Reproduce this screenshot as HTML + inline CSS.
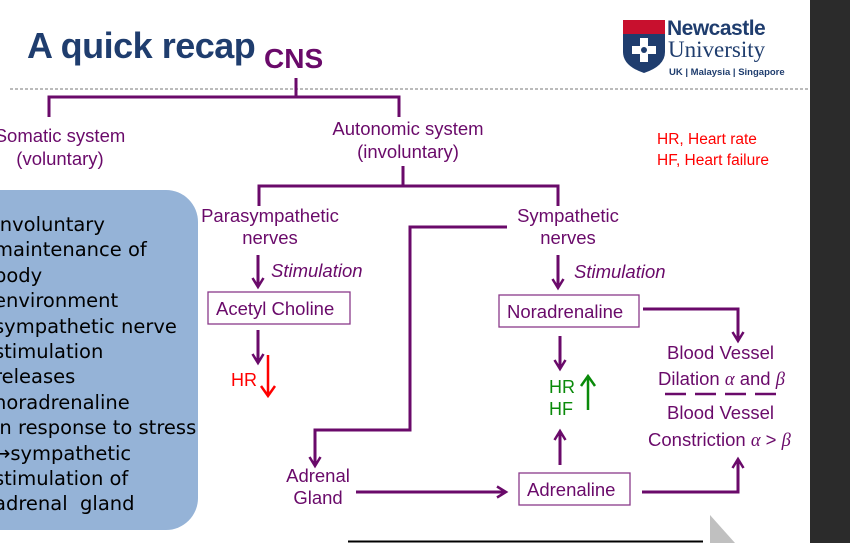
<!DOCTYPE html>
<html><head><style>
body{margin:0;width:850px;height:543px;overflow:hidden;background:#fff;position:relative;font-family:"Liberation Sans",sans-serif}
.t{position:absolute;white-space:nowrap}
.p{color:#6a0a6a;font-size:18.5px}
.c{text-align:center}
</style></head><body>
<div style="position:absolute;left:810px;top:0;width:40px;height:543px;background:#2b2b2b"></div>
<div style="position:absolute;left:-40px;top:190px;width:238px;height:340px;background:#95b3d7;border-radius:32px"></div>
<div class="t" style="left:-6px;top:212px;font-family:'Comic Sans MS','DejaVu Sans',sans-serif;font-size:19.5px;line-height:25.4px;color:#000">Involuntary<br>maintenance of<br>body<br>environment<br>sympathetic nerve<br>stimulation<br>releases<br>noradrenaline<br>in response to stress<br>→sympathetic<br>stimulation of<br>adrenal&nbsp; gland</div>
<div class="t" style="left:27px;top:25px;font-size:36px;font-weight:bold;color:#1f3d6e;letter-spacing:-0.5px">A quick recap</div>
<div class="t" style="left:264px;top:43px;font-size:28px;font-weight:bold;color:#6a0a6a">CNS</div>
<svg width="850" height="543" style="position:absolute;left:0;top:0">
<defs><marker id="a" markerWidth="14" markerHeight="14" refX="10" refY="7" orient="auto" markerUnits="userSpaceOnUse"><path d="M1,1.5 L10,7 L1,12.5" fill="none" stroke="#6a0a6a" stroke-width="2.5"/></marker></defs>
<line x1="10" y1="89" x2="810" y2="89" stroke="#777" stroke-dasharray="3,2"/>
<g fill="none" stroke="#6a0a6a" stroke-width="3">
<path d="M296,78V97M49,117V97H399V117"/>
<path d="M403,166V186M259,206V186H558V206"/>
<path d="M258,255V287" marker-end="url(#a)"/>
<path d="M258,330V363" marker-end="url(#a)"/>
<path d="M507,227H410V430H315V466" marker-end="url(#a)"/>
<path d="M356,492H506" marker-end="url(#a)"/>
<path d="M558,255V288" marker-end="url(#a)"/>
<path d="M643,309H738V341" marker-end="url(#a)"/>
<path d="M560,336V369" marker-end="url(#a)"/>
<path d="M560,465V431" marker-end="url(#a)"/>
<path d="M642,492H738V459" marker-end="url(#a)"/>
<path d="M665,394H776" stroke-width="2.5" stroke-dasharray="21,9"/>
</g>
<path d="M268,355V395M261,386L268,396L275,386" stroke="red" stroke-width="2.5" fill="none"/>
<path d="M588,410V378M581,386L588,376L595,386" stroke="#0a8a0a" stroke-width="2.5" fill="none"/>
<rect x="208" y="292" width="142" height="32" fill="none" stroke="#8a3a8a" stroke-width="1.3"/>
<rect x="499" y="295" width="140" height="32" fill="none" stroke="#8a3a8a" stroke-width="1.3"/>
<rect x="519" y="473" width="111" height="32" fill="none" stroke="#8a3a8a" stroke-width="1.3"/>
<line x1="348" y1="541.5" x2="703" y2="541.5" stroke="#000" stroke-width="2"/>
<polygon points="710,515 735,543 710,543" fill="#c0c0c0"/>
<path d="M623,20H665V52Q665,66 644,73Q623,66 623,52Z" fill="#1f3d6e"/>
<rect x="623" y="20" width="42" height="14" fill="#c8102e"/>
<path d="M640,38H648V46H656V54H648V62H640V54H632V46H640Z" fill="#fff"/>
<circle cx="644" cy="50" r="3" fill="#1f3d6e"/>
</svg>
<div class="t" style="left:667px;top:17px;font-size:21px;font-weight:bold;color:#1f3d6e;letter-spacing:-0.5px">Newcastle</div>
<div class="t" style="left:668px;top:37px;font-family:'Liberation Serif',serif;font-size:23px;color:#1f3d6e">University</div>
<div class="t" style="left:669px;top:67px;font-size:9.5px;font-weight:bold;color:#1f3d6e">UK | Malaysia | Singapore</div>
<div class="t p c" style="left:-20px;top:124px;width:160px;line-height:23px">Somatic system<br>(voluntary)</div>
<div class="t p c" style="left:318px;top:117px;width:180px;line-height:23px">Autonomic system<br>(involuntary)</div>
<div class="t" style="left:657px;top:129px;font-size:15.5px;color:#f00;line-height:21px">HR, Heart rate<br>HF, Heart failure</div>
<div class="t p c" style="left:185px;top:205px;width:170px;line-height:22px">Parasympathetic<br>nerves</div>
<div class="t p c" style="left:483px;top:205px;width:170px;line-height:22px">Sympathetic<br>nerves</div>
<div class="t p" style="left:271px;top:260px;font-style:italic">Stimulation</div>
<div class="t p" style="left:574px;top:261px;font-style:italic">Stimulation</div>
<div class="t p" style="left:216px;top:298px">Acetyl Choline</div>
<div class="t p" style="left:507px;top:301px">Noradrenaline</div>
<div class="t p" style="left:527px;top:479px">Adrenaline</div>
<div class="t p c" style="left:268px;top:465px;width:100px;line-height:22px">Adrenal<br>Gland</div>
<div class="t" style="left:231px;top:370px;font-size:18px;color:#f00">HR</div>
<div class="t" style="left:549px;top:376px;font-size:18px;color:#0a8a0a;line-height:22px">HR<br>HF</div>
<div class="t p" style="left:667px;top:342px">Blood Vessel</div>
<div class="t p" style="left:658px;top:368px">Dilation <i style="font-family:'Liberation Serif',serif">α</i> and <i style="font-family:'Liberation Serif',serif">β</i></div>
<div class="t p" style="left:667px;top:402px">Blood Vessel</div>
<div class="t p" style="left:648px;top:429px">Constriction <i style="font-family:'Liberation Serif',serif">α</i> &gt; <i style="font-family:'Liberation Serif',serif">β</i></div>
</body></html>
